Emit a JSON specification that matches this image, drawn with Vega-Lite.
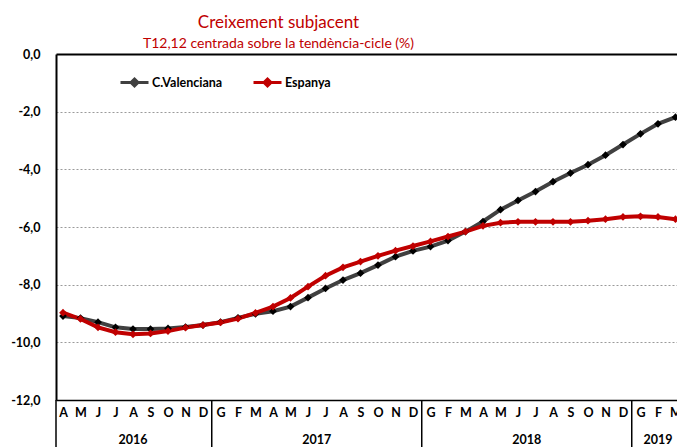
{
  "$schema": "https://vega.github.io/schema/vega-lite/v6.json",
  "autosize": "none",
  "width": 621,
  "height": 346,
  "padding": {"left": 56, "top": 54, "right": 0, "bottom": 47},
  "background": "white",
  "config": {
    "font": "Lato",
    "view": {"stroke": null}
  },
  "title": {
    "text": "Creixement subjacent",
    "subtitle": "T12,12 centrada sobre la tendència-cicle (%)",
    "anchor": "middle",
    "dx": -88,
    "font": "Lato",
    "fontSize": 17,
    "fontWeight": "normal",
    "color": "#C00000",
    "subtitleFont": "Lato",
    "subtitleFontSize": 14,
    "subtitleColor": "#C00000",
    "subtitlePadding": 5,
    "offset": -4
  },
  "datasets": {
    "series": [
      {"i": 0, "s": "C.Valenciana", "v": -9.09}, {"i": 1, "s": "C.Valenciana", "v": -9.16},
      {"i": 2, "s": "C.Valenciana", "v": -9.3}, {"i": 3, "s": "C.Valenciana", "v": -9.48},
      {"i": 4, "s": "C.Valenciana", "v": -9.54}, {"i": 5, "s": "C.Valenciana", "v": -9.54},
      {"i": 6, "s": "C.Valenciana", "v": -9.52}, {"i": 7, "s": "C.Valenciana", "v": -9.47},
      {"i": 8, "s": "C.Valenciana", "v": -9.4}, {"i": 9, "s": "C.Valenciana", "v": -9.3},
      {"i": 10, "s": "C.Valenciana", "v": -9.15}, {"i": 11, "s": "C.Valenciana", "v": -9.01},
      {"i": 12, "s": "C.Valenciana", "v": -8.92}, {"i": 13, "s": "C.Valenciana", "v": -8.76},
      {"i": 14, "s": "C.Valenciana", "v": -8.45}, {"i": 15, "s": "C.Valenciana", "v": -8.13},
      {"i": 16, "s": "C.Valenciana", "v": -7.84}, {"i": 17, "s": "C.Valenciana", "v": -7.6},
      {"i": 18, "s": "C.Valenciana", "v": -7.32}, {"i": 19, "s": "C.Valenciana", "v": -7.03},
      {"i": 20, "s": "C.Valenciana", "v": -6.83}, {"i": 21, "s": "C.Valenciana", "v": -6.68},
      {"i": 22, "s": "C.Valenciana", "v": -6.47}, {"i": 23, "s": "C.Valenciana", "v": -6.16},
      {"i": 24, "s": "C.Valenciana", "v": -5.81}, {"i": 25, "s": "C.Valenciana", "v": -5.4},
      {"i": 26, "s": "C.Valenciana", "v": -5.08}, {"i": 27, "s": "C.Valenciana", "v": -4.77},
      {"i": 28, "s": "C.Valenciana", "v": -4.43}, {"i": 29, "s": "C.Valenciana", "v": -4.13},
      {"i": 30, "s": "C.Valenciana", "v": -3.84}, {"i": 31, "s": "C.Valenciana", "v": -3.51},
      {"i": 32, "s": "C.Valenciana", "v": -3.14}, {"i": 33, "s": "C.Valenciana", "v": -2.77},
      {"i": 34, "s": "C.Valenciana", "v": -2.42}, {"i": 35, "s": "C.Valenciana", "v": -2.19},
      {"i": 0, "s": "Espanya", "v": -8.97}, {"i": 1, "s": "Espanya", "v": -9.19},
      {"i": 2, "s": "Espanya", "v": -9.48}, {"i": 3, "s": "Espanya", "v": -9.65},
      {"i": 4, "s": "Espanya", "v": -9.72}, {"i": 5, "s": "Espanya", "v": -9.69},
      {"i": 6, "s": "Espanya", "v": -9.61}, {"i": 7, "s": "Espanya", "v": -9.49},
      {"i": 8, "s": "Espanya", "v": -9.4}, {"i": 9, "s": "Espanya", "v": -9.31},
      {"i": 10, "s": "Espanya", "v": -9.18}, {"i": 11, "s": "Espanya", "v": -8.98},
      {"i": 12, "s": "Espanya", "v": -8.76}, {"i": 13, "s": "Espanya", "v": -8.46},
      {"i": 14, "s": "Espanya", "v": -8.07}, {"i": 15, "s": "Espanya", "v": -7.69},
      {"i": 16, "s": "Espanya", "v": -7.4}, {"i": 17, "s": "Espanya", "v": -7.2},
      {"i": 18, "s": "Espanya", "v": -7.0}, {"i": 19, "s": "Espanya", "v": -6.82},
      {"i": 20, "s": "Espanya", "v": -6.66}, {"i": 21, "s": "Espanya", "v": -6.5},
      {"i": 22, "s": "Espanya", "v": -6.33}, {"i": 23, "s": "Espanya", "v": -6.16},
      {"i": 24, "s": "Espanya", "v": -5.96}, {"i": 25, "s": "Espanya", "v": -5.85},
      {"i": 26, "s": "Espanya", "v": -5.82}, {"i": 27, "s": "Espanya", "v": -5.82},
      {"i": 28, "s": "Espanya", "v": -5.82}, {"i": 29, "s": "Espanya", "v": -5.82},
      {"i": 30, "s": "Espanya", "v": -5.78}, {"i": 31, "s": "Espanya", "v": -5.73},
      {"i": 32, "s": "Espanya", "v": -5.65}, {"i": 33, "s": "Espanya", "v": -5.63},
      {"i": 34, "s": "Espanya", "v": -5.65}, {"i": 35, "s": "Espanya", "v": -5.73}
    ],
    "years": [
      {"c": 4, "y": "2016"}, {"c": 14.5, "y": "2017"}, {"c": 26.5, "y": "2018"}, {"c": 34, "y": "2019"}
    ],
    "seps": [
      {"b": -0.4}, {"b": 8.5}, {"b": 20.5}, {"b": 32.5}
    ]
  },
  "layer": [
    {
      "data": {"name": "series"},
      "mark": {"type": "line", "strokeWidth": 4},
      "encoding": {
        "x": {
          "field": "i", "type": "quantitative",
          "scale": {"domain": [-0.4, 35.086], "nice": false, "zero": false},
          "axis": {
            "title": null,
            "values": [0,1,2,3,4,5,6,7,8,9,10,11,12,13,14,15,16,17,18,19,20,21,22,23,24,25,26,27,28,29,30,31,32,33,34,35],
            "tickCount": 100,
            "labelExpr": "['A','M','J','J','A','S','O','N','D','G','F','M','A','M','J','J','A','S','O','N','D','G','F','M','A','M','J','J','A','S','O','N','D','G','F','M'][datum.value]",
            "ticks": false,
            "grid": false,
            "domainColor": "black",
            "domainWidth": 1.5,
            "labelFont": "Lato",
            "labelFontWeight": "bold",
            "labelFontSize": 12.5,
            "labelColor": "black",
            "labelPadding": 6,
            "labelOverlap": false,
            "labelFlush": false,
            "labelBound": false
          }
        },
        "y": {
          "field": "v", "type": "quantitative",
          "scale": {"domain": [-12, 0], "nice": false},
          "axis": {
            "title": null,
            "values": [0, -2, -4, -6, -8, -10, -12],
            "labelExpr": "(datum.value < 0 ? '-' : '') + replace(format(abs(datum.value), '.1f'), '.', ',')",
            "ticks": false,
            "domainColor": "black",
            "domainWidth": 2,
            "gridColor": {"condition": {"test": "datum.value === 0", "value": "black"}, "value": "#9a9a9a"},
            "gridDash": {"condition": {"test": "datum.value === 0", "value": []}, "value": [2, 2]},
            "gridWidth": {"condition": {"test": "datum.value === 0", "value": 2}, "value": 1},
            "labelFont": "Lato",
            "labelFontWeight": "bold",
            "labelFontSize": 12.5,
            "labelColor": "black",
            "labelPadding": 16,
            "labelFlush": false,
            "labelOverlap": false
          }
        },
        "color": {
          "field": "s", "type": "nominal",
          "scale": {"domain": ["C.Valenciana", "Espanya"], "range": ["#404040", "#C00000"]},
          "legend": {
            "title": null,
            "orient": "none",
            "legendX": 63,
            "legendY": 13,
            "direction": "horizontal",
            "symbolType": "M-1,0H1M0,-0.25L0.25,0L0,0.25L-0.25,0Z",
            "symbolSize": 784,
            "symbolStrokeWidth": 3,
            "labelFont": "Lato",
            "labelFontWeight": "bold",
            "labelFontSize": 12.5,
            "labelColor": "black",
            "labelOffset": 2,
            "columnPadding": 24,
            "encode": {"symbols": {"update": {"fill": {"scale": "color", "field": "value"}, "fillOpacity": {"value": 1}}}}
          }
        }
      }
    },
    {
      "data": {"name": "series"},
      "mark": {"type": "point", "shape": "diamond", "filled": true, "size": 60, "opacity": 1},
      "encoding": {
        "x": {"field": "i", "type": "quantitative"},
        "y": {"field": "v", "type": "quantitative"},
        "fill": {"condition": {"test": "datum.s === 'C.Valenciana'", "value": "black"}, "value": "#C00000"}
      }
    },
    {
      "data": {"name": "seps"},
      "mark": {"type": "rule", "color": "black", "strokeWidth": 1.5},
      "encoding": {
        "x": {"field": "b", "type": "quantitative"},
        "y": {"datum": -12},
        "y2": {"datum": -13.7}
      }
    },
    {
      "data": {"name": "years"},
      "mark": {"type": "text", "font": "Lato", "fontWeight": "bold", "fontSize": 12.5, "color": "black", "baseline": "middle"},
      "encoding": {
        "x": {"field": "c", "type": "quantitative"},
        "y": {"datum": -13.38},
        "text": {"field": "y"}
      }
    }
  ]
}
